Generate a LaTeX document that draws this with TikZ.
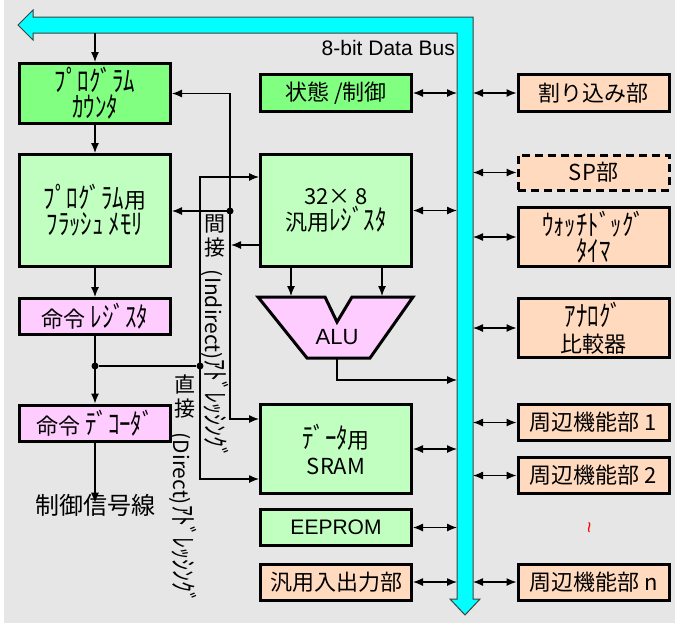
\documentclass[tikz,border=0pt]{standalone}
\usepackage{fontspec}
\setmainfont{Liberation Sans}
\newfontfamily\jp{Noto Sans CJK JP}
\newfontfamily\hkf[FakeStretch=0.8,Scale=1.3]{Noto Sans CJK JP}
\newcommand\hw[1]{{\hkf #1}}
\usetikzlibrary{arrows.meta}
\definecolor{bg}{HTML}{E6E6E6}
\definecolor{gA}{HTML}{80FF80}
\definecolor{gB}{HTML}{C0FFC0}
\definecolor{pk}{HTML}{FFCCFF}
\definecolor{pe}{HTML}{FFDABF}
\definecolor{busc}{HTML}{00FFFF}
\begin{document}
\begin{tikzpicture}[x=1pt,y=-1pt,
  box/.style={draw=black, line width=3pt, minimum width=151pt, inner sep=0pt, align=center, font=\jp\fontsize{22}{26}\selectfont},
  arr/.style={line width=1.2pt, -{Latex[length=10pt,width=8pt]}},
  biarr/.style={line width=1.2pt, {Latex[length=10pt,width=8pt]}-{Latex[length=10pt,width=8pt]}},
  dot/.style={circle, fill=black, inner sep=0pt, minimum size=7pt},
  jptxt/.style={font=\jp\fontsize{21}{24}\selectfont, inner sep=0pt, align=center}]
\useasboundingbox (0,0) rectangle (692,625);
\fill[bg] (4,0) rectangle (675,623);

% bus
\draw[fill=busc, draw=black!75, line width=1pt]
  (18,25) -- (33,10) -- (33,17) -- (473,17) -- (473,599) -- (480,599) -- (465,615)
  -- (450,599) -- (457,599) -- (457,33) -- (33,33) -- (33,40) -- cycle;
\coordinate (busL) at (457,0);
\coordinate (busR) at (473,0);
\coordinate (busB) at (0,33);
\node[anchor=base east, font=\fontsize{21}{24}\selectfont, inner sep=0pt] (buslabel) at (455,55) {8-bit Data Bus};

% left column
\node[box, fill=gA, minimum height=60pt] (pc) at (95,93.5) {\hw{ﾌﾟﾛｸﾞﾗﾑ}\\\hw{ｶｳﾝﾀ}};
\node[box, fill=gB, minimum height=112pt] (flash) at (95,210.5) {\hw{ﾌﾟﾛｸﾞﾗﾑ}用\\\hw{ﾌﾗｯｼｭ ﾒﾓﾘ}};
\node[box, fill=pk, minimum height=36pt] (ir) at (95,316.5) {命令 \hw{ﾚｼﾞｽﾀ}};
\node[box, fill=pk, minimum height=36pt] (dec) at (95,423) {命令 \hw{ﾃﾞｺｰﾀﾞ}};
\node[font=\jp\fontsize{24}{26}\selectfont, inner sep=0pt] (ctrl) at (95,505) {制御信号線};

% middle column
\node[box, fill=gA, minimum height=37pt] (state) at (336,93) {状態 /制御};
\node[box, fill=gB, minimum height=112pt] (reg) at (336,210.5) {32× 8\\汎用\hw{ﾚｼﾞｽﾀ}};
\node[box, fill=gB, minimum height=89pt] (sram) at (336,449) {\hw{ﾃﾞｰﾀ}用\\SRAM};
\node[box, fill=gB, minimum height=36pt, font=\fontsize{21}{24}\selectfont] (eeprom) at (336,527.5) {EEPROM};
\node[box, fill=pe, minimum height=36pt] (gpio) at (336,582) {汎用入出力部};

% ALU
\draw[fill=pk, line width=3pt, line join=miter]
  (258,297) -- (325,297) -- (337,322) -- (352,297) -- (413,297) -- (370,358) -- (307,358) -- cycle;
\node[font=\fontsize{22}{24}\selectfont, inner sep=0pt] (alu) at (337,337) {ALU};
\coordinate (aluL) at (291,296);
\coordinate (aluR) at (382,296);
\coordinate (aluout) at (337,358);
\coordinate (aluturn) at (337,380);

% right column
\node[box, fill=pe, minimum height=37pt] (intr) at (593.5,93) {割り込み部};
\node[box, fill=pe, minimum height=35pt, dash pattern=on 8pt off 5pt] (sp) at (593.5,172.5) {SP部};
\node[box, fill=pe, minimum height=59pt] (wdt) at (593.5,237) {\hw{ｳｫｯﾁﾄﾞｯｸﾞ}\\\hw{ﾀｲﾏ}};
\node[box, fill=pe, minimum height=59pt] (anal) at (593.5,328) {\hw{ｱﾅﾛｸﾞ}\\比較器};
\node[box, fill=pe, minimum height=36pt] (p1) at (593.5,422.5) {周辺機能部 1};
\node[box, fill=pe, minimum height=36pt] (p2) at (593.5,475.5) {周辺機能部 2};
\node[text=red, rotate=90, font=\fontsize{20}{20}\selectfont, inner sep=0pt] (tilde) at (592,528) {\textasciitilde};
\node[box, fill=pe, minimum height=36pt] (pn) at (593.5,582) {周辺機能部 n};

% left arrows
\draw[arr] (pc.north |- busB) -- (pc.north);
\draw[arr] (pc.south) -- (flash.north);
\draw[arr] (flash.south) -- (ir.north);
\node[dot] (j1) at (95,366) {};
\node[dot] (j2) at (200,366) {};
\node[dot] (j3) at (230,211) {};
\draw[arr] (ir.south) -- (dec.north);
\draw[arr] (dec.south) -- ([yshift=-9pt]ctrl.north);
\draw[line width=1.2pt] (j1) -- (j2);

% direct addressing
\coordinate (dtop) at (200,177);
\coordinate (dbot) at (200,479);
\draw[arr] (j2.center) -- (dtop) -- (reg.west |- dtop);
\draw[arr] (j2.center) -- (dbot) -- (sram.west |- dbot);

% indirect addressing
\coordinate (itop) at (230,93.5);
\coordinate (ibot) at (230,419);
\coordinate (iin) at (231,245);
\draw[arr] (j3.center) -- (itop) -- (pc.east);
\draw[arr] (j3.center) -- (flash.east |- j3);
\draw[arr] (j3.center) -- (ibot) -- (sram.west |- ibot);
\draw[arr] (reg.west |- iin) -- (iin);

% vertical labels
\node[jptxt] (ilab1) at (215,236) {間\\接};
\node[jptxt, rotate=-90] (ilab2) at (215,364) {(Indirect)\hw{ｱﾄﾞﾚｯｼﾝｸﾞ}};
\node[jptxt] (dlab1) at (185,396) {直\\接};
\node[jptxt, rotate=-90] (dlab2) at (183,518) {(Direct)\hw{ｱﾄﾞﾚｯｼﾝｸﾞ}};

% reg -> ALU
\draw[arr] (reg.south -| aluL) -- (aluL);
\draw[arr] (reg.south -| aluR) -- (aluR);
\draw[arr] (aluout) -- (aluturn) -- (aluturn -| busL);

% bus connections middle
\draw[biarr] (state.east) -- (state.east -| busL);
\draw[biarr] (reg.east) -- (reg.east -| busL);
\draw[biarr] (sram.east) -- (sram.east -| busL);
\draw[biarr] (eeprom.east) -- (eeprom.east -| busL);
\draw[biarr] (gpio.east) -- (gpio.east -| busL);

% bus connections right
\draw[biarr] (busR |- intr.west) -- (intr.west);
\draw[biarr] (busR |- sp.west) -- (sp.west);
\draw[biarr] (busR |- wdt.west) -- (wdt.west);
\draw[biarr] (busR |- anal.west) -- (anal.west);
\draw[biarr] (busR |- p1.west) -- (p1.west);
\draw[biarr] (busR |- p2.west) -- (p2.west);
\draw[biarr] (busR |- pn.west) -- (pn.west);
\end{tikzpicture}
\end{document}
